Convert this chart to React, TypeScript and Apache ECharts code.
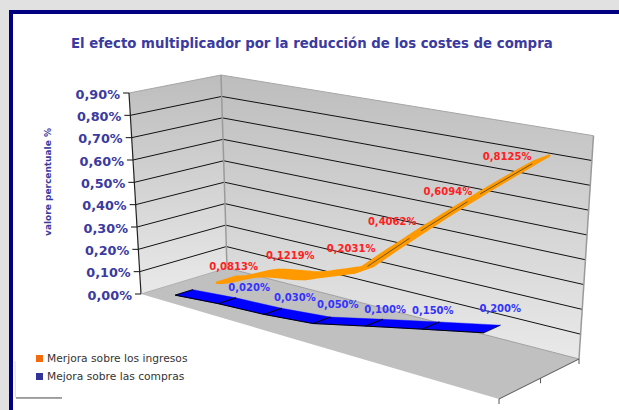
import React, { useEffect, useRef } from "react";
import * as echarts from "echarts";

const categories = ["", "1", "2", "3", "4", "5", "6"];
const ingresosValues = [0, 0.0813, 0.1219, 0.2031, 0.4062, 0.6094, 0.8125];
const comprasValues = [0.003, 0.02, 0.03, 0.05, 0.1, 0.15, 0.2];
const ingresosLabels = ["0,0813%", "0,1219%", "0,2031%", "0,4062%", "0,6094%", "0,8125%"];
const comprasLabels = ["0,020%", "0,030%", "0,050%", "0,100%", "0,150%", "0,200%"];
const valueTicks = [0, 0.1, 0.2, 0.3, 0.4, 0.5, 0.6, 0.7, 0.8, 0.9];
const tickLabels = ["0,00%", "0,10%", "0,20%", "0,30%", "0,40%", "0,50%", "0,60%", "0,70%", "0,80%", "0,90%"];
const titleText = "El efecto multiplicador por la reducción de los costes de compra";
const axisTitle = "valore percentuale %";
const nameIngresos = "Merjora sobre los ingresos";
const nameCompras = "Mejora sobre las compras";

// label placement relative to the projected point
const ingresosShift = [[-36, -7], [-25, -20], [-13, -20], [-25, -12], [-28, -5], [-34, -2]];
const comprasShift = [[22, -13], [22, -14], [16, -16], [11, -13], [2, -15], [8, -20]];

type P = [number, number];
const FONT = "DejaVu Sans";

// corners of the floor and the ceiling of the 3-D box on the page
const floorQuad: P[] = [[141, 294], [499, 399], [579, 359], [227, 268]];
const topQuad: P[] = [[129, 93], [519, 167], [593.5, 135.7], [221, 75]];

function homography(q: P[]) {
  const [[x0, y0], [x1, y1], [x2, y2], [x3, y3]] = q;
  const dx1 = x1 - x2, dx2 = x3 - x2, sx = x0 - x1 + x2 - x3;
  const dy1 = y1 - y2, dy2 = y3 - y2, sy = y0 - y1 + y2 - y3;
  const den = dx1 * dy2 - dx2 * dy1;
  const g = (sx * dy2 - dx2 * sy) / den;
  const h = (dx1 * sy - sx * dy1) / den;
  const a = x1 - x0 + g * x1, b = x3 - x0 + h * x3;
  const d = y1 - y0 + g * y1, e = y3 - y0 + h * y3;
  return (u: number, v: number): P => {
    const w = g * u + h * v + 1;
    return [(a * u + b * v + x0) / w, (d * u + e * v + y0) / w];
  };
}
const floorMap = homography(floorQuad);
const topMap = homography(topQuad);
// u along categories, h fraction of the value axis, z depth
function project(u: number, h: number, z: number): P {
  const f = floorMap(u, z), t = topMap(u, z);
  return [f[0] + (t[0] - f[0]) * h, f[1] + (t[1] - f[1]) * h];
}

const fractionX = (params: any, api: any, i: number) => {
  const cs = params.coordSys;
  return (api.coord([i, 0])[0] - cs.x) / cs.width;
};
const fractionY = (params: any, api: any, v: number) => {
  const cs = params.coordSys;
  return 1 - (api.coord([0, v])[1] - cs.y) / cs.height;
};

const line = (a: P, b: P, stroke: string, lineWidth = 1) => ({
  type: "line",
  shape: { x1: a[0], y1: a[1], x2: b[0], y2: b[1] },
  style: { stroke, lineWidth, fill: "none" },
  silent: true,
});
const poly = (points: P[], style: any) => ({ type: "polygon", shape: { points }, style, silent: true });

function renderBox(params: any, api: any) {
  const grad = () =>
    new echarts.graphic.LinearGradient(0, 0, 0, 1, [
      { offset: 0, color: "#bdbdbd" },
      { offset: 1, color: "#e9e9e9" },
    ]);
  const c: any[] = [];
  const P0 = project(0, 0, 0), P1 = project(1, 0, 0), P2 = project(1, 0, 1), P3 = project(0, 0, 1);
  const T0 = project(0, 1, 0), T2 = project(1, 1, 1), T3 = project(0, 1, 1);
  c.push(poly([T0, T3, P3, P0], { fill: grad() }));
  c.push(poly([T3, T2, P2, P3], { fill: grad() }));
  c.push(poly([P0, P1, P2, P3], { fill: "#c0c0c0" }));
  valueTicks.forEach((t, k) => {
    const h = fractionY(params, api, t);
    const a = project(0, h, 0), b = project(0, h, 1), d = project(1, h, 1);
    if (k > 0 && k < valueTicks.length - 1) {
      c.push(line(a, b, "#111"));
      c.push(line(b, d, "#111"));
    }
    c.push(line([a[0] - 6, a[1]], a, "#111"));
    c.push({
      type: "text",
      silent: true,
      style: {
        x: a[0] - 9,
        y: a[1] + 1,
        text: tickLabels[k],
        align: "right",
        verticalAlign: "middle",
        fill: "#3a3aa0",
        font: `bold 12.8px '${FONT}'`,
      },
    });
  });
  c.push(line(T0, T3, "#a6a6a6"));
  c.push(line(T3, T2, "#a6a6a6"));
  c.push(line(T3, P3, "#9a9a9a", 1.5));
  c.push(line(T2, P2, "#9a9a9a", 1.5));
  c.push(line(T0, P0, "#222", 1.2));
  c.push(line(P3, P2, "#a0a0a0"));
  c.push(line(P3, P0, "#b0b0b0"));
  // depth axis under the right-hand side of the floor
  c.push(line(P1, P2, "#555"));
  [0, 0.5, 1].forEach((z) => {
    const a = project(1, 0, z);
    c.push(line(a, [a[0], a[1] + 5], "#555"));
  });
  return { type: "group", children: c };
}

// the ribbon is curved only over its first two segments, as in the picture
const smooth = (vals: number[], i: number, t: number) => {
  if (i >= 2) return vals[i] + (vals[i + 1] - vals[i]) * t;
  const p0 = vals[Math.max(i - 1, 0)], p1 = vals[i], p2 = vals[i + 1], p3 = vals[Math.min(i + 2, vals.length - 1)];
  return (
    0.5 *
    (2 * p1 + (p2 - p0) * t + (2 * p0 - 5 * p1 + 4 * p2 - p3) * t * t + (3 * p1 - p0 - 3 * p2 + p3) * t * t * t)
  );
};

function renderIngresos(params: any, api: any) {
  const i = params.dataIndex;
  if (i >= ingresosValues.length - 1) return { type: "group", children: [] };
  const z0 = 0.63, z1 = 0.86;
  const u0 = fractionX(params, api, i), u1 = fractionX(params, api, i + 1);
  const front: P[] = [], back: P[] = [];
  const N = 8;
  for (let k = 0; k <= N; k++) {
    const t = k / N;
    const u = u0 + (u1 - u0) * t;
    const h = fractionY(params, api, smooth(ingresosValues, i, t));
    front.push(project(u, h, z0));
    back.push(project(u, h, z1));
  }
  const children: any[] = [
    poly([...front, ...back.reverse()], { fill: "#ff9900", stroke: "#ff9900", lineWidth: 2.6, lineJoin: "round" }),
  ];
  if (i >= 3) {
    const hA = fractionY(params, api, ingresosValues[i]), hB = fractionY(params, api, ingresosValues[i + 1]);
    const at = (t: number) => project(u0 + (u1 - u0) * t, hA + (hB - hA) * t, 0.74);
    children.push(line(at(0.08), at(0.88), "#6b5320", 1));
  }
  return { type: "group", children };
}

function renderCompras(params: any, api: any) {
  const i = params.dataIndex;
  if (i >= comprasValues.length - 1) return { type: "group", children: [] };
  const z0 = 0.15, z1 = 0.35;
  const u0 = fractionX(params, api, i), u1 = fractionX(params, api, i + 1);
  const hA = fractionY(params, api, comprasValues[i]), hB = fractionY(params, api, comprasValues[i + 1]);
  const a = project(u0, hA, z0), b = project(u1, hB, z0), c = project(u1, hB, z1), d = project(u0, hA, z1);
  const children: any[] = [
    poly([a, b, c, d], { fill: "#0000ff", stroke: "#0000ff", lineWidth: 0.4 }),
    line(a, b, "#000", 1),
    line(a, d, "#000", 1),
  ];
  if (i === comprasValues.length - 2) children.push(line(b, c, "#000", 0.6));
  return { type: "group", children };
}

const labelRenderer =
  (vals: number[], labels: string[], shift: number[][], z: number, fill: string, size: number) =>
  (params: any, api: any) => {
    const i = params.dataIndex;
    if (i === 0) return { type: "group", children: [] };
    const p = project(fractionX(params, api, i), fractionY(params, api, vals[i]), z);
    return {
      type: "text",
      silent: true,
      style: {
        x: p[0] + shift[i - 1][0],
        y: p[1] + shift[i - 1][1],
        text: labels[i - 1],
        align: "center",
        verticalAlign: "middle",
        fill,
        font: `bold ${size}px '${FONT}'`,
      },
    };
  };

export default function App() {
  const ref = useRef<HTMLDivElement>(null);
  useEffect(() => {
    const chart = echarts.init(ref.current!, undefined, { renderer: "svg" });
    const pairs = (vals: number[]) => vals.map((v, i) => [i, v]);
    chart.setOption({
      animation: false,
      backgroundColor: "#ffffff",
      title: {
        text: titleText,
        left: 71,
        top: 37,
        padding: 0,
        textStyle: { fontFamily: FONT, fontWeight: "bold", fontSize: 13.3, color: "#3a3aa0" },
      },
      legend: {
        orient: "vertical",
        left: 36,
        top: 353,
        padding: 0,
        itemWidth: 7,
        itemHeight: 7,
        itemGap: 7,
        selectedMode: false,
        textStyle: { fontFamily: FONT, fontSize: 10.7, color: "#333333", padding: [4, 0, 0, -1] },
        data: [
          { name: nameIngresos, icon: "rect", itemStyle: { color: "#f26a0a" } },
          { name: nameCompras, icon: "rect", itemStyle: { color: "#333399" } },
        ],
      },
      grid: { left: 100, top: 100, width: 400, height: 200, show: false },
      xAxis: { type: "category", data: categories, show: false, boundaryGap: true },
      yAxis: { type: "value", min: 0, max: 0.9, interval: 0.1, show: false },
      graphic: [
        { type: "rect", z: -10, shape: { x: 0, y: 0, width: 619, height: 410 }, style: { fill: "#e1e1e1" }, silent: true },
        { type: "rect", z: -9, shape: { x: 9, y: 10, width: 610, height: 400 }, style: { fill: "#000080" }, silent: true },
        { type: "rect", z: -8, shape: { x: 13, y: 14, width: 606, height: 396 }, style: { fill: "#ffffff" }, silent: true },
        { type: "polyline", z: -7, shape: { points: [[15, 361], [15.5, 397.5], [62, 397.5]] }, style: { stroke: "#e0e0e0", fill: "none", lineWidth: 1 }, silent: true },
        { type: "line", z: -6, shape: { x1: 16, y1: 398, x2: 62, y2: 398 }, style: { stroke: "#555", lineWidth: 1 }, silent: true },
        {
          type: "text",
          x: 48,
          y: 182,
          rotation: Math.PI / 2,
          silent: true,
          style: {
            text: axisTitle,
            align: "center",
            verticalAlign: "middle",
            fill: "#3a3aa0",
            font: `bold 9px '${FONT}'`,
          },
        },
      ],
      series: [
        { type: "custom", name: "box", coordinateSystem: "cartesian2d", data: [[0, 0]], renderItem: renderBox, z: 1, silent: true },
        { type: "custom", name: nameIngresos, coordinateSystem: "cartesian2d", data: pairs(ingresosValues), renderItem: renderIngresos, z: 2, itemStyle: { color: "#f26a0a" }, silent: true },
        { type: "custom", name: nameCompras, coordinateSystem: "cartesian2d", data: pairs(comprasValues), renderItem: renderCompras, z: 3, itemStyle: { color: "#333399" }, silent: true },
        { type: "custom", name: "ingresosText", coordinateSystem: "cartesian2d", data: pairs(ingresosValues), renderItem: labelRenderer(ingresosValues, ingresosLabels, ingresosShift, 0.75, "#ff2020", 10), z: 4, silent: true },
        { type: "custom", name: "comprasText", coordinateSystem: "cartesian2d", data: pairs(comprasValues), renderItem: labelRenderer(comprasValues, comprasLabels, comprasShift, 0.25, "#3333ff", 10), z: 4, silent: true },
      ],
    });
    return () => chart.dispose();
  }, []);
  return <div ref={ref} style={{ position: "fixed", left: 0, top: 0, width: 619, height: 410 }} />;
}
